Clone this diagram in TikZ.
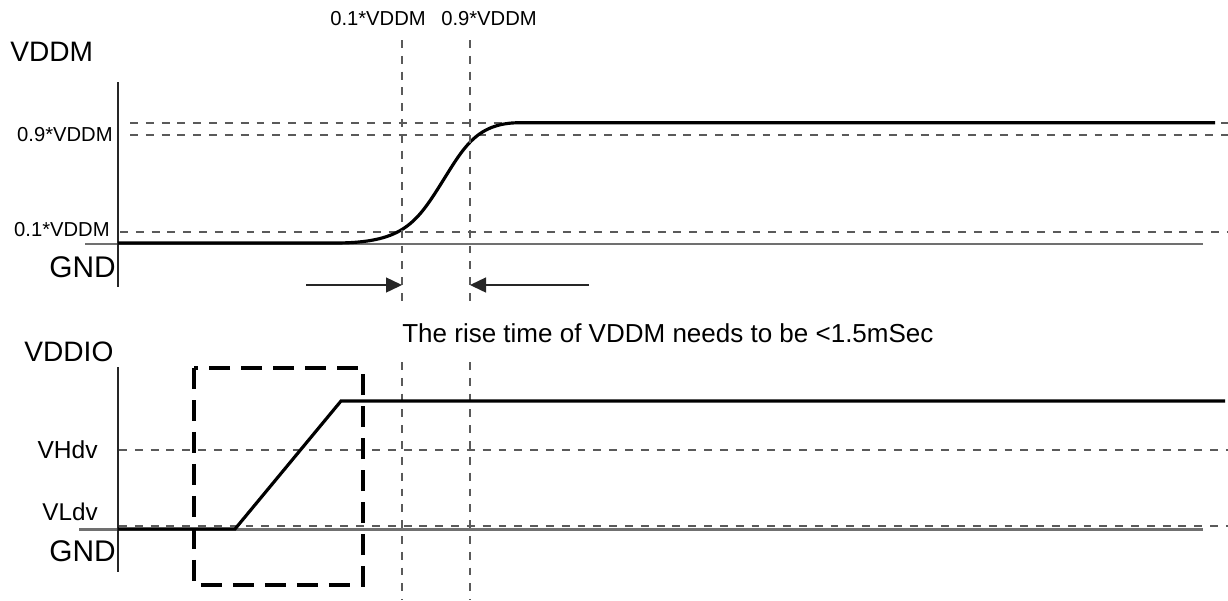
\documentclass[tikz,border=0pt]{standalone}
\usepackage{fontspec}
\setmainfont{Liberation Sans}
\usetikzlibrary{arrows.meta}
\definecolor{traceBlack}{RGB}{0,0,0}
\definecolor{guideGray}{RGB}{90,90,90}
\definecolor{gndGray}{RGB}{112,112,112}

\begin{document}
\begin{tikzpicture}[x=0.02cm,y=-0.02cm,
  guide/.style={draw=guideGray,line width=1pt,dash pattern=on 4.5pt off 4.5pt},
  gndline/.style={draw=gndGray,line width=1.2pt},
  axis/.style={draw=traceBlack!85,line width=0.8pt},
  trace/.style={draw=traceBlack,line width=1.8pt},
  lbl/.style={inner sep=0pt,text=traceBlack}]
\path[use as bounding box] (0,0) rectangle (1228,600);

% top chart: VDDM
\node[lbl,anchor=west,font=\fontsize{16}{18}\selectfont] (vddm) at (10,52) {VDDM};
\node[lbl,anchor=east,font=\fontsize{11.5}{13}\selectfont] (hiVddm) at (113,135) {0.9*VDDM};
\node[lbl,anchor=east,font=\fontsize{11.5}{13}\selectfont] (loVddm) at (110,230) {0.1*VDDM};
\node[lbl,anchor=west,font=\fontsize{17}{19}\selectfont] (gndTop) at (49,267) {GND};
\node[lbl,font=\fontsize{11.5}{13}\selectfont] (tLo) at (378,19) {0.1*VDDM};
\node[lbl,font=\fontsize{11.5}{13}\selectfont] (tHi) at (489,19) {0.9*VDDM};

\draw[guide] (130,122.7) -- (1228,122.7);
\draw[guide] (130,135) -- (1228,135);
\draw[guide] (120,232) -- (1228,232);
\draw[gndline] (85,244) -- (1203,244);
\draw[axis] (118,82) -- (118,287);
\draw[trace] (118,243) -- (335,243) .. controls (400,243) and (415,225) .. (439,187)
  .. controls (463,149) and (475,122.7) .. (520,122.7) -- (1215,122.7);

% time markers
\draw[guide] (402,40) -- (402,308);
\draw[guide] (402,362) -- (402,600);
\draw[guide] (470,40) -- (470,308);
\draw[guide] (470,362) -- (470,600);

\coordinate (arrLs) at (306,285);
\coordinate (arrLe) at (402,285);
\coordinate (arrRs) at (589,285);
\coordinate (arrRe) at (470,285);
\draw[axis,-{Triangle[length=0.32cm,width=0.3cm]}] (arrLs) -- (arrLe);
\draw[axis,-{Triangle[length=0.32cm,width=0.3cm]}] (arrRs) -- (arrRe);
\node[lbl,anchor=west,font=\fontsize{14.8}{17}\selectfont] (riseNote) at (402,333) {The rise time of VDDM needs to be <1.5mSec};

% bottom chart: VDDIO
\node[lbl,anchor=west,font=\fontsize{16}{18}\selectfont] (vddio) at (24,352) {VDDIO};
\node[lbl,anchor=east,font=\fontsize{14}{16}\selectfont] (vhdv) at (98,450) {VHdv};
\node[lbl,anchor=east,font=\fontsize{13.8}{16}\selectfont] (vldv) at (98,512) {VLdv};
\node[lbl,anchor=west,font=\fontsize{17}{19}\selectfont] (gndBot) at (49,551) {GND};

\draw[guide] (119,450) -- (1228,450);
\draw[guide] (119,526) -- (1228,526);
\draw[gndline] (79,529.5) -- (1203,529.5);
\draw[axis] (118,367) -- (118,572);
\draw[trace] (118,529) -- (235,529) -- (341,401) -- (1225,401);
\draw[traceBlack,line width=2.1pt,dash pattern=on 0.42cm off 0.22cm] (194,368) rectangle (363,585);
\end{tikzpicture}
\end{document}
